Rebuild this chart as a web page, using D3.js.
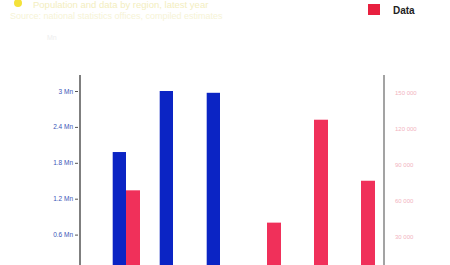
<!DOCTYPE html>
<html><head><meta charset="utf-8">
<script src="https://cdn.jsdelivr.net/npm/d3@7"></script>
<style>body{margin:0;background:#fff}svg{display:block}</style>
</head><body>
<svg id="c" width="450" height="265"></svg>
<script>
const categories = ["A","B","C","D","E","F"];
const seriesLeft = [1.98e6, 3.0e6, 2.97e6, 0, 0, 0];      // blue, left axis
const seriesRight = [67000, 0, 0, 40000, 126000, 75000];   // red "Data", right axis
const leftTicks = [0.6e6, 1.2e6, 1.8e6, 2.4e6, 3.0e6];
const leftTickLabels = ["0.6 Mn","1.2 Mn","1.8 Mn","2.4 Mn","3 Mn"];
const rightTicks = [30000, 60000, 90000, 120000, 150000];
const rightTickLabels = ["30 000","60 000","90 000","120 000","150 000"];
const seriesNames = ["Population","Data"];
const titleText = "Population and data by region, latest year";
const subtitleText = "Source: national statistics offices, compiled estimates";

const svg = d3.select("#c");
const yTop = 75, yZero = 270.5, xL = 80, xR = 384;

const x = d3.scaleBand().domain(categories).range([102.5, 384.5]).paddingInner(0).paddingOuter(0);
const yL = d3.scaleLinear().domain([0, 3.0e6]).range([yZero, 91]);
const yR = d3.scaleLinear().domain([0, 150000]).range([yZero, 91]);

// title
svg.append("circle").attr("cx",18).attr("cy",3).attr("r",4).attr("fill","#f4e23a");
svg.append("text").attr("x",33).attr("y",8).attr("font-family","Liberation Sans, Arial").attr("font-size",9.5)
  .attr("fill","#f3eec0").text(titleText);
svg.append("text").attr("x",10).attr("y",19).attr("font-family","Liberation Sans, Arial").attr("font-size",9)
  .attr("fill","#f6f3d6").text(subtitleText);
svg.append("text").attr("x",47).attr("y",40).attr("font-family","Liberation Sans, Arial").attr("font-size",7)
  .attr("fill","#eeeeee").text("Mn");

// legend
svg.append("rect").attr("x",368).attr("y",4).attr("width",12).attr("height",11).attr("fill","#e8203f");
svg.append("text").attr("x",393).attr("y",14).attr("font-family","Liberation Sans, Arial").attr("font-weight","bold")
  .attr("font-size",10).attr("fill","#222").text(seriesNames[1]);

// bars
const g = svg.append("g");
const bw = 13.3;
categories.forEach((c,i)=>{
  const cx = x(c) + x.bandwidth()/2;
  if (seriesLeft[i] > 0) {
    g.append("rect").attr("x", cx - bw).attr("width", bw)
      .attr("y", yL(seriesLeft[i])).attr("height", yZero - yL(seriesLeft[i])).attr("fill","#0b24c4");
  }
  if (seriesRight[i] > 0) {
    g.append("rect").attr("x", cx).attr("width", bw + 0.7)
      .attr("y", yR(seriesRight[i])).attr("height", yZero - yR(seriesRight[i])).attr("fill","#f0305a");
  }
});

// left axis
const la = svg.append("g").attr("transform",`translate(${xL},0)`)
  .call(d3.axisLeft(yL).tickValues(leftTicks).tickFormat((d,i)=>leftTickLabels[i]).tickSize(3).tickPadding(4));
la.select(".domain").remove();
la.selectAll(".tick line").attr("stroke","#555").attr("transform","translate(-2,0)");
la.selectAll(".tick text").attr("fill","#3a55b8").attr("font-size",6.5).attr("font-family","Liberation Sans, Arial");
svg.append("line").attr("x1",xL).attr("x2",xL).attr("y1",yTop).attr("y2",265).attr("stroke","#555").attr("stroke-width",1.5);

// right axis
const ra = svg.append("g").attr("transform",`translate(${xR},0)`)
  .call(d3.axisRight(yR).tickValues(rightTicks).tickFormat((d,i)=>rightTickLabels[i]).tickSize(0).tickPadding(11));
ra.select(".domain").remove();
ra.selectAll(".tick text").attr("fill","#f2b3c0").attr("font-size",6).attr("font-family","Liberation Sans, Arial")
  .attr("dy","0.6em");
svg.append("line").attr("x1",xR).attr("x2",xR).attr("y1",yTop).attr("y2",265).attr("stroke","#666").attr("stroke-width",1.2);
</script>
</body></html>
